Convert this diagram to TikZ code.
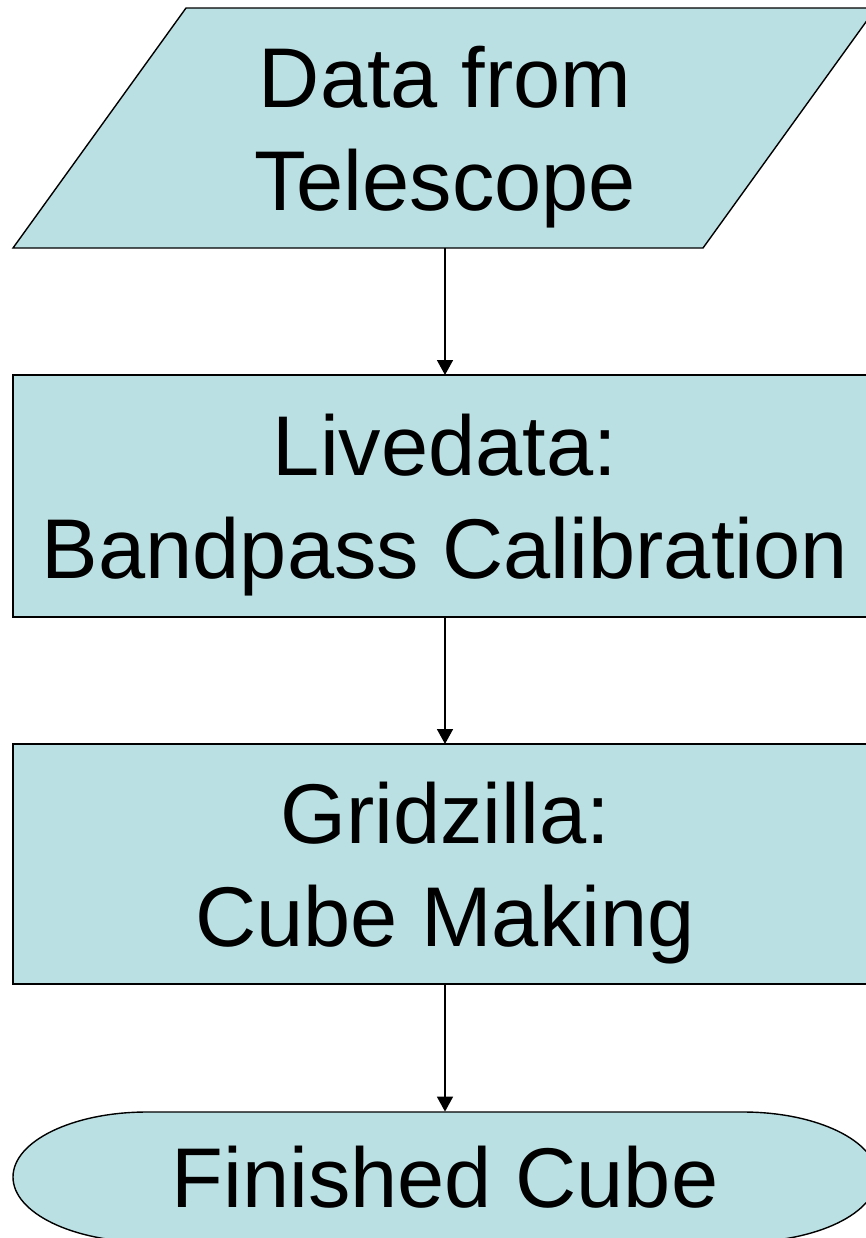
\documentclass[tikz,border=0pt]{standalone}
\usepackage{fontspec}
\setmainfont{Liberation Sans}
\usetikzlibrary{arrows.meta}
\definecolor{boxfill}{RGB}{187,224,227}
\begin{document}
\begin{tikzpicture}[x=0.5pt,y=-0.5pt,
  txt/.style={align=center, text depth=0pt, font=\fontsize{42.4}{51.5}\selectfont},
  box/.style={txt, draw, fill=boxfill, line width=0.7pt, outer sep=0pt, inner sep=0pt},
  outline/.style={draw, fill=boxfill, line width=0.7pt},
  flow/.style={-{Triangle[length=7.5pt,width=8pt]}, line width=0.8pt}]
\useasboundingbox (0,0) rectangle (866,1238);
\clip (0,0) rectangle (866,1238);
% input parallelogram
\draw[outline] (13,248) -- (186,8) -- (876,8) -- (703,248) -- cycle;
\node[txt, inner sep=0pt, minimum width=432pt, minimum height=120pt] (data) at (445,128) {Data from\\Telescope};
\node[box, minimum width=432pt, minimum height=121pt] (live) at (445,496) {Livedata:\\Bandpass Calibration};
\node[box, minimum width=432pt, minimum height=120pt] (grid) at (445,864) {Gridzilla:\\Cube Making};
% terminal with half-ellipse ends
\draw[outline] (147,1112) -- (743,1112)
  arc[start angle=90, end angle=-90, x radius=67pt, y radius=32.5pt] -- (147,1242)
  arc[start angle=270, end angle=90, x radius=67pt, y radius=32.5pt] -- cycle;
\node[txt, inner sep=0pt, minimum width=432pt, minimum height=65pt] (cube) at (445,1177) {Finished Cube};
\draw[flow] (data.south) -- (live.north);
\draw[flow] (live.south) -- (grid.north);
\draw[flow] (grid.south) -- (cube.north);
\end{tikzpicture}
\end{document}
